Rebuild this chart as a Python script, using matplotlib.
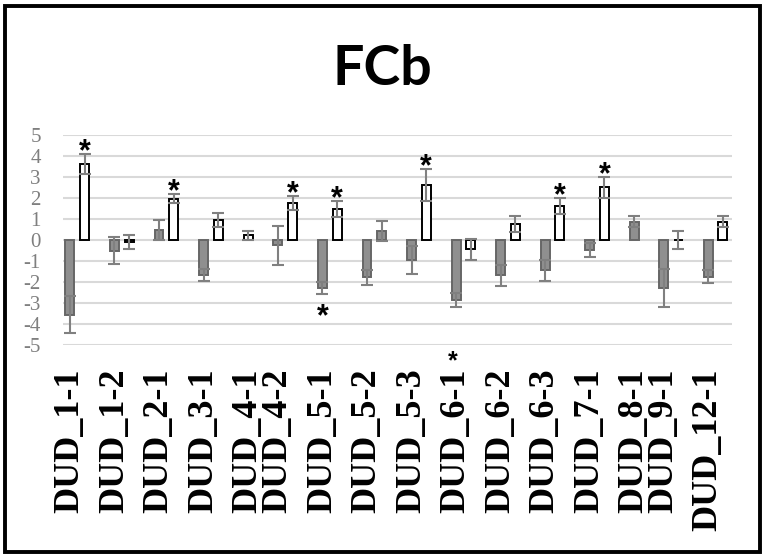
import matplotlib.pyplot as plt
from matplotlib.patches import Rectangle
from matplotlib.transforms import blended_transform_factory

# category labels and where each group sits (the original squeezes 4-1/4-2 and 8-1/9-1)
labels = ["DUD_1-1", "DUD_1-2", "DUD_2-1", "DUD_3-1", "DUD_4-1", "DUD_4-2",
          "DUD_5-1", "DUD_5-2", "DUD_5-3", "DUD_6-1", "DUD_6-2", "DUD_6-3",
          "DUD_7-1", "DUD_8-1", "DUD_9-1", "DUD_12-1"]
slots = [0, 1, 2, 3, 4, 4.67, 5.67, 6.67, 7.67, 8.67, 9.67, 10.67,
         11.67, 12.67, 13.33, 14.33]

# left bar of each pair
left_vals = [-3.55, -0.50, 0.47, -1.67, 0.22, -0.25, -2.30, -1.78,
             -0.95, -2.86, -1.67, -1.43, -0.48, 0.87, -2.27, -1.75]
left_err = [0.90, 0.63, 0.48, 0.28, 0.22, 0.92, 0.29, 0.35,
            0.65, 0.33, 0.50, 0.50, 0.35, 0.27, 0.90, 0.30]
left_fill = ["g", "g", "g", "g", "w", "g", "g", "g",
             "g", "g", "g", "g", "g", "g", "g", "g"]

# right bar of each pair (None = no bar drawn)
right_vals = [3.60, -0.10, 1.97, 0.95, None, 1.75, 1.48, 0.44,
              2.62, -0.44, 0.76, 1.62, 2.51, None, 0.0, 0.87]
right_err = [0.48, 0.33, 0.22, 0.34, None, 0.33, 0.37, 0.48,
             0.76, 0.50, 0.36, 0.38, 0.50, None, 0.45, 0.27]
right_fill = ["w", "w", "w", "w", "w", "w", "w", "g",
              "w", "w", "w", "w", "w", "w", "w", "w"]

# significance stars
star_above_right = [0, 2, 5, 6, 8, 11, 12]
star_below_left = [6]
star_near_label = [9]

yticks = [5, 4, 3, 2, 1, 0, -1, -2, -3, -4, -5]

face = {"g": "#8f8f8f", "w": "white"}
edge = {"g": "#666666", "w": "black"}

off = 0.165
bw = 0.2
xl = [s - off for s in slots]
xr = [s + off for s in slots]
rv = [float("nan") if v is None else v for v in right_vals]
re = [0 if e is None else e for e in right_err]

fig = plt.figure(figsize=(7.65, 5.56), dpi=100)
ax = fig.add_axes([63 / 765, 1 - 345 / 556, 669 / 765, 210 / 556])

ax.bar(xl, left_vals, bw, color=[face[f] for f in left_fill],
       edgecolor=[edge[f] for f in left_fill], linewidth=1.4, zorder=3)
ax.bar(xr, rv, bw, color=[face[f] for f in right_fill],
       edgecolor=[edge[f] for f in right_fill], linewidth=1.4, zorder=3)

ax.errorbar(xl, left_vals, yerr=left_err, fmt="none", ecolor="#808080",
            elinewidth=1.5, capsize=4, capthick=1.5, zorder=4)
ax.errorbar(xr, rv, yerr=re, fmt="none", ecolor="#808080",
            elinewidth=1.5, capsize=4, capthick=1.5, zorder=4)

star_font = dict(fontsize=22, fontweight="bold", family="Liberation Sans",
                 ha="center", va="baseline", annotation_clip=False)
for i in star_above_right:
    ax.annotate("*", (xr[i], rv[i] + re[i]), xytext=(0, -4.5),
                textcoords="offset points", **star_font)
for i in star_below_left:
    ax.annotate("*", (xl[i], left_vals[i] - left_err[i]), xytext=(0, -22),
                textcoords="offset points", **star_font)
for i in star_near_label:
    ax.annotate("*", (xl[i] - 0.08, -5.57), xytext=(0, -8),
                textcoords="offset points", fontsize=18, fontweight="bold",
                family="Liberation Sans", ha="center", va="baseline",
                annotation_clip=False)

ax.set_xlim(-0.32, 14.70)
ax.set_ylim(-5, 5)
ax.set_yticks(yticks)
ax.set_yticklabels([str(t) for t in yticks], family="Liberation Serif",
                   fontsize=15, color="#7f7f7f")
ax.tick_params(axis="y", length=0, pad=16)
ax.set_xticks([])
ax.grid(axis="y", color="#d9d9d9", linewidth=1.5, zorder=0)
ax.set_axisbelow(True)
for sp in ax.spines.values():
    sp.set_visible(False)

trans = blended_transform_factory(ax.transData, ax.transAxes)
for x, lab in zip(xl, labels):
    ax.text(x, -0.11, lab, transform=trans, rotation=90, ha="center",
            va="top", fontsize=26, fontweight="bold",
            family="Liberation Serif")

fig.text(382 / 765, 1 - 85 / 556, "FCb", ha="center", va="baseline",
         fontsize=40, fontweight="bold", family="Lato")

fig.patches.append(Rectangle((5 / 765, 4.5 / 556), 755 / 765, 546 / 556,
                             transform=fig.transFigure, fill=False,
                             edgecolor="black", linewidth=2.8))

fig.savefig("out.png", dpi=100)
